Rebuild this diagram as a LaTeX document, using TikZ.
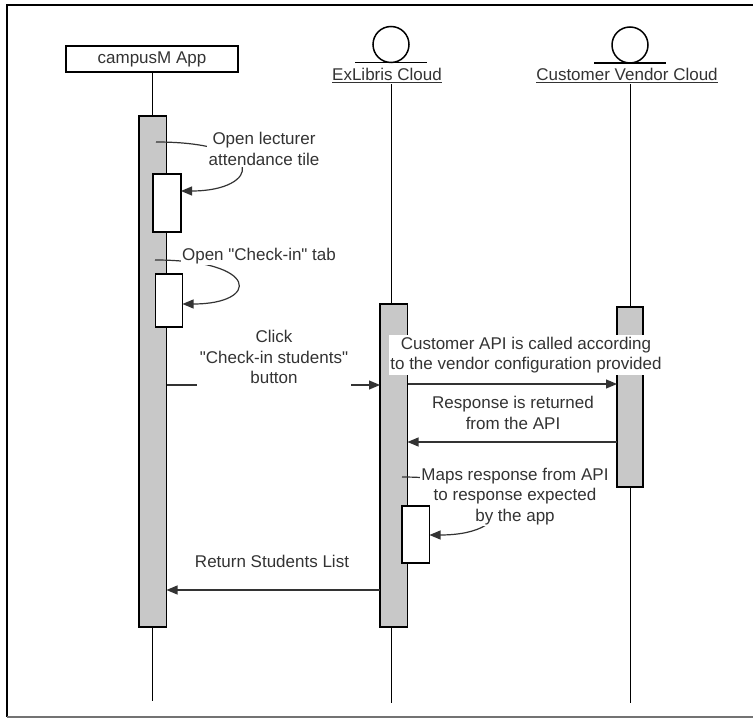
\documentclass[tikz,border=0pt]{standalone}
\usepackage{fontspec}
\setmainfont{Liberation Sans}
\usetikzlibrary{arrows.meta}
\definecolor{barc}{RGB}{200,200,200}
\begin{document}
\begin{tikzpicture}[x=1pt,y=-1pt,
  lbl/.style={font=\fontsize{17}{20.5}\selectfont, text=black!80, align=center, inner sep=1.5pt},
  wlbl/.style={lbl, fill=white},
  actbar/.style={draw=black, line width=1.2pt, fill=barc, inner sep=0pt, outer sep=0pt, anchor=north west},
  subbox/.style={draw=black, line width=1.2pt, fill=white, inner sep=0pt, outer sep=0pt, anchor=north west},
  life/.style={draw=black, line width=1.1pt},
  msg/.style={draw=black!80, line width=1.2pt, -{Triangle[length=11pt,width=9pt]}},
  head/.style={circle, draw=black, line width=1.5pt, minimum size=36pt, inner sep=0pt},
  base/.style={draw=black, line width=1.5pt},
]
\useasboundingbox (0,0) rectangle (753,719);
% frame
\draw[line width=1.6pt] (753,5) -- (7,5) -- (7,717);
\draw[black!55, line width=1.4pt] (7,717) -- (753,717);

% campusM App
\node[draw=black, line width=1.2pt, minimum width=172pt, minimum height=26pt, inner sep=0pt,
      font=\fontsize{17}{20.5}\selectfont, text=black!80] (appbox) at (152,59) {campusM App};
\coordinate (append) at (152.5,701);
\draw[life] (appbox.south -| append) -- (append);

% ExLibris Cloud
\node[head] (exhead) at (391,44.5) {};
\coordinate (exbl) at (355,62.5);
\coordinate (exbr) at (427,62.5);
\draw[base] (exbl) -- (exbr);
\node[lbl] (exlab) at (387,75.5) {\underline{ExLibris Cloud}};
\coordinate (exend) at (391.5,703);
\draw[life] (exlab.south -| exend) -- (exend);

% Customer Vendor Cloud
\node[head] (venhead) at (630,45) {};
\coordinate (venbl) at (594,63);
\coordinate (venbr) at (666,63);
\draw[base] (venbl) -- (venbr);
\node[lbl] (venlab) at (627,75.5) {\underline{Customer Vendor Cloud}};
\coordinate (venend) at (630.5,703);
\draw[life] (venlab.south -| venend) -- (venend);

% activation bars
\node[actbar, minimum width=27.5pt, minimum height=511pt] (appbar) at (139,116) {};
\node[actbar, minimum width=27.5pt, minimum height=323pt] (exbar) at (380,304) {};
\node[actbar, minimum width=26pt, minimum height=180pt] (venbar) at (617,307) {};
\node[subbox, minimum width=28pt, minimum height=58pt] (sub1) at (153,174) {};
\node[subbox, minimum width=27pt, minimum height=53pt] (sub2) at (155.5,274) {};

% self call 1
\coordinate (s1) at (156,142);
\draw[msg] (s1) .. controls (270,142) and (260,191) .. (sub1.east |- 0,191);
\node[wlbl] (l1) at (264,149) {Open lecturer\\attendance tile};

% self call 2
\coordinate (s2) at (155,260);
\draw[msg] (s2) .. controls (260,260) and (260,304) .. (sub2.east |- 0,304);
\node[wlbl] (l2) at (259,256) {Open \textquotedbl Check-in\textquotedbl{} tab};

% click
\draw[msg] (appbar.east |- 0,385) -- (exbar.west |- 0,385);
\node[wlbl, inner sep=3pt] (l3) at (274,357) {Click\\\textquotedbl Check-in students\textquotedbl\\button};

% customer API
\draw[msg] (exbar.east |- 0,384) -- (venbar.west |- 0,384);
\node[wlbl] (l4) at (526,355) {Customer API is called according\\to the vendor configuration provided};

% response
\draw[msg] (venbar.west |- 0,442) -- (exbar.east |- 0,442);
\node[wlbl] (l5) at (513,413) {Response is returned\\from the API};

% self call 3
\coordinate (s3) at (402,477);
\coordinate (s3end) at (429.5,535);
\draw[msg] (s3) .. controls (520,477) and (520,535) .. (s3end);
\node[wlbl] (l6) at (515,496.5) {Maps response from API\\to response expected\\by the app};
\node[subbox, minimum width=27.5pt, minimum height=57pt] (exsub) at (402,506) {};

% return
\draw[msg] (exbar.west |- 0,590) -- (appbar.east |- 0,590);
\node[lbl] (l7) at (272,561) {Return Students List};
\end{tikzpicture}
\end{document}
